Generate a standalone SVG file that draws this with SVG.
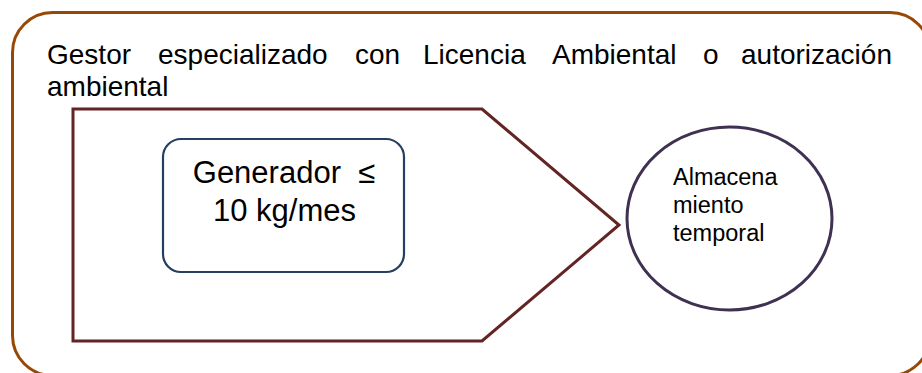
<svg xmlns="http://www.w3.org/2000/svg" width="922" height="373" viewBox="0 0 922 373">
  <style>
    .txt { font-family: "Liberation Sans", Arial, sans-serif; fill: #000; }
    .hdr { font-size: 28px; }
    .gen { font-size: 31px; }
    .alm { font-size: 23.5px; }
  </style>
  <rect width="922" height="373" fill="#fff"/>
  <g id="frame">
    <rect x="12.5" y="12.5" width="917.5" height="363" rx="40" ry="40" fill="none" stroke="#984806" stroke-width="3"/>
    <text class="txt hdr" y="64">
      <tspan x="47">Gestor</tspan>
      <tspan x="158">especializado</tspan>
      <tspan x="355">con</tspan>
      <tspan x="423">Licencia</tspan>
      <tspan x="552">Ambiental</tspan>
      <tspan x="703">o</tspan>
      <tspan x="741">autorización</tspan>
    </text>
    <text class="txt hdr" x="47" y="96">ambiental</text>
  </g>
  <g id="arrow">
    <polygon points="73,109 482,109 619,225 482,341 73,341" fill="#fff" stroke="#632523" stroke-width="3"/>
  </g>
  <g id="generador">
    <rect x="163" y="139" width="241" height="133" rx="18" ry="18" fill="#fff" stroke="#243F60" stroke-width="2.2"/>
    <text class="txt gen" text-anchor="middle" x="284" y="183" xml:space="preserve">Generador  ≤</text>
    <text class="txt gen" text-anchor="middle" x="284.5" y="221">10 kg/mes</text>
  </g>
  <g id="almacenamiento">
    <ellipse cx="729.5" cy="218.5" rx="102.5" ry="91.5" fill="#fff" stroke="#3F3151" stroke-width="3"/>
    <text class="txt alm" x="673" y="185">Almacena</text>
    <text class="txt alm" x="673" y="213">miento</text>
    <text class="txt alm" x="673" y="241">temporal</text>
  </g>
  <g id="connectors"></g>
</svg>
